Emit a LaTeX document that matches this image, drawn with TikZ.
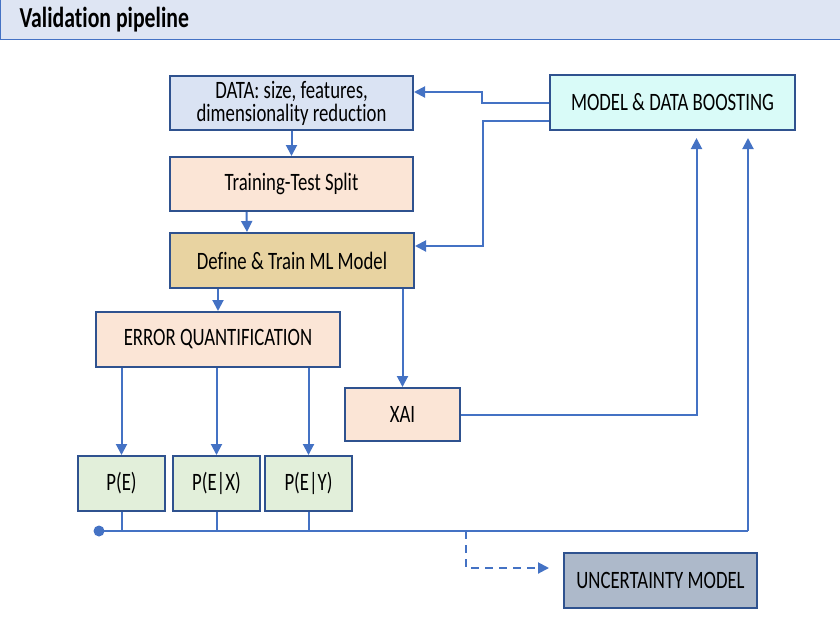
\documentclass[tikz,border=0pt]{standalone}
\usepackage{fontspec}
\setmainfont{Carlito}[FakeStretch=0.75, Ligatures=NoCommon]
\usepackage{tikz}
\usetikzlibrary{arrows.meta,positioning}
\definecolor{wire}{HTML}{4472C4}
\definecolor{rim}{HTML}{2F528F}
\definecolor{headbg}{HTML}{DEE5F3}
\definecolor{databg}{HTML}{DAE3F3}
\definecolor{peach}{HTML}{FBE5D6}
\definecolor{papyrus}{HTML}{E8D3A1}
\definecolor{mint}{HTML}{E2EFDA}
\definecolor{aqua}{HTML}{D9FBF8}
\definecolor{slate}{HTML}{ADB9CA}

\begin{document}
\begin{tikzpicture}[x=1pt, y=-1pt,
   stage/.style={draw=rim, line width=2pt, align=center, inner sep=0pt,
                 font=\fontsize{25}{27}\selectfont, minimum height=54pt},
   flow/.style={wire, line width=2pt, -{Triangle[length=11pt,width=11pt]}},
   link/.style={wire, line width=2pt}]
  \useasboundingbox (0,0) rectangle (840,630);
  % header band
  \fill[headbg] (0,0) rectangle (840,39.5);
  \draw[wire, line width=1.4pt] (0.7,0) -- (0.7,39.5) -- (840,39.5);
  \node[anchor=west, font=\fontsize{29}{31}\selectfont\bfseries] (title) at (16,19.5) {Validation pipeline};
  % stages
  \node[stage, fill=databg, minimum width=243pt] (data) at (291.5,103) {DATA: size, features,\\[-4pt]dimensionality reduction};
  \node[stage, fill=peach, minimum width=243pt]  (split) at (291.5,184) {Training-Test Split};
  \node[stage, fill=papyrus, minimum width=244pt, minimum height=55pt] (train) at (292,260.5) {Define \& Train ML Model};
  \node[stage, fill=peach, minimum width=244pt, minimum height=55pt] (err) at (218,339.5) {ERROR QUANTIFICATION};
  \node[stage, fill=peach, minimum width=115pt, minimum height=53pt] (xai) at (402.5,414.5) {XAI};
  \node[stage, fill=mint, minimum width=87pt, minimum height=55pt] (pe)  at (121.5,483.5) {P(E)};
  \node[stage, fill=mint, minimum width=87pt, minimum height=55pt] (pex) at (216.5,483.5) {P(E|X)};
  \node[stage, fill=mint, minimum width=87pt, minimum height=55pt] (pey) at (308.5,483.5) {P(E|Y)};
  \node[stage, fill=aqua, minimum width=245pt, minimum height=55pt] (boost) at (672.5,102.5) {MODEL \& DATA BOOSTING};
  \node[stage, fill=slate, minimum width=193pt, minimum height=55pt] (unc) at (660.5,580.5) {UNCERTAINTY MODEL};
  % main chain
  \draw[flow] (data) -- (split);
  \draw[flow] ([xshift=-45pt]split.south) -- ([xshift=-45pt]train.north);
  \draw[flow] (train.south -| err.north) -- (err.north);
  \draw[flow] (train.south -| xai.north) -- (xai.north);
  \foreach \p in {pe,pex,pey} {\draw[flow] (err.south -| \p.north) -- (\p.north);}
  % feedback from boosting
  \draw[flow] (boost.west) -- ++(-67,0) |- ([yshift=11pt]data.east);
  \draw[flow] ([yshift=-18pt]boost.west) -- ++(-66,0) |- ([yshift=14.5pt]train.east);
  \draw[flow, shorten >=7pt] (xai.east) -| ([xshift=24pt]boost.south);
  % bus
  \coordinate (busL) at (99,531);
  \coordinate (busR) at (748,531);
  \coordinate (tap) at (466,531);
  \fill[wire] (busL) circle (5.5);
  \draw[link] (busL) -- (busR);
  \foreach \p in {pe,pex,pey} {\draw[link] (\p.south) -- (\p.south |- busL);}
  \draw[flow, shorten >=7pt] (busR) -- (busR |- boost.south);
  \draw[flow, dash pattern=on 8pt off 6pt, shorten >=14pt] (tap) |- ([yshift=12.5pt]unc.west);
\end{tikzpicture}
\end{document}
